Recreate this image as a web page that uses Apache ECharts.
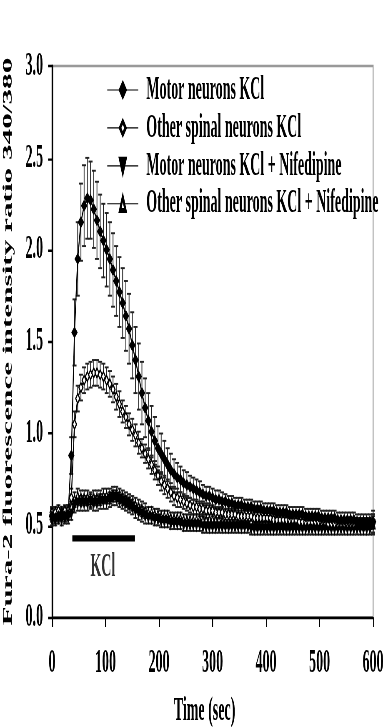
<!DOCTYPE html>
<html><head><meta charset="utf-8">
<script src="https://cdn.jsdelivr.net/npm/echarts@6/dist/echarts.min.js"></script>
<style>
html,body{margin:0;padding:0;background:#fff;overflow:hidden;}
#wrap{width:383px;height:727px;overflow:hidden;}
#chart{width:383px;height:303px;transform:scaleY(2.3993);transform-origin:0 0;}
</style></head>
<body><div id="wrap"><div id="chart"></div></div>
<script>
// time points (sec)
const times = [0,6,12,18,24,30,36,42,48,54,
 60,66,72,78,84,90,96,102,108,114,
 120,126,132,138,144,150,156,162,168,174,
 180,186,192,198,204,210,216,222,228,234,
 240,246,252,258,264,270,276,282,288,294,
 300,306,312,318,324,330,336,342,348,354,
 360,366,372,378,384,390,396,402,408,414,
 420,426,432,438,444,450,456,462,468,474,
 480,486,492,498,504,510,516,522,528,534,
 540,546,552,558,564,570,576,582,588,594,
 600];
const seriesNames = ['Motor neurons KCl','Other spinal neurons KCl','Motor neurons KCl + Nifedipine','Other spinal neurons KCl + Nifedipine'];
// Motor neurons KCl
const mnKCl = [0.55,0.54,0.55,0.56,0.55,0.56,0.88,1.55,1.95,2.15,
 2.24,2.28,2.27,2.22,2.16,2.10,2.05,2.00,1.95,1.89,
 1.83,1.77,1.71,1.64,1.57,1.48,1.40,1.31,1.22,1.14,
 1.07,1.01,0.96,0.92,0.89,0.86,0.83,0.80,0.78,0.76,
 0.75,0.73,0.72,0.71,0.70,0.69,0.68,0.67,0.66,0.66,
 0.65,0.64,0.64,0.63,0.63,0.62,0.62,0.61,0.61,0.61,
 0.60,0.60,0.60,0.59,0.59,0.59,0.58,0.58,0.58,0.58,
 0.57,0.57,0.57,0.57,0.56,0.56,0.56,0.56,0.56,0.55,
 0.55,0.55,0.55,0.55,0.54,0.54,0.54,0.54,0.54,0.53,
 0.53,0.53,0.53,0.53,0.53,0.52,0.52,0.52,0.52,0.52,
 0.52];
const mnKClErr = [0.03,0.03,0.03,0.03,0.03,0.03,0.10,0.18,0.20,0.21,
 0.22,0.22,0.21,0.21,0.21,0.20,0.20,0.20,0.20,0.20,
 0.19,0.19,0.19,0.19,0.19,0.18,0.18,0.18,0.17,0.16,
 0.15,0.14,0.13,0.12,0.11,0.10,0.09,0.09,0.08,0.08,
 0.07,0.07,0.07,0.06,0.06,0.06,0.06,0.05,0.05,0.05,
 0.05,0.05,0.05,0.05,0.04,0.04,0.04,0.04,0.04,0.04,
 0.04,0.04,0.04,0.04,0.04,0.04,0.04,0.04,0.04,0.04,
 0.04,0.04,0.04,0.04,0.04,0.04,0.04,0.04,0.04,0.04,
 0.04,0.04,0.04,0.04,0.04,0.04,0.04,0.04,0.04,0.04,
 0.04,0.04,0.04,0.04,0.04,0.04,0.04,0.04,0.04,0.04,
 0.06];
// Other spinal neurons KCl
const osKCl = [0.57,0.57,0.58,0.57,0.58,0.58,0.65,1.05,1.19,1.25,
 1.29,1.31,1.32,1.33,1.33,1.32,1.31,1.29,1.27,1.24,
 1.20,1.16,1.12,1.09,1.05,1.02,0.99,0.95,0.92,0.89,
 0.86,0.83,0.80,0.77,0.74,0.72,0.70,0.68,0.66,0.65,
 0.64,0.63,0.62,0.61,0.60,0.60,0.59,0.59,0.58,0.58,
 0.58,0.57,0.57,0.57,0.56,0.56,0.56,0.56,0.55,0.55,
 0.55,0.55,0.55,0.54,0.54,0.54,0.54,0.54,0.54,0.53,
 0.53,0.53,0.53,0.53,0.53,0.53,0.53,0.52,0.52,0.52,
 0.52,0.52,0.52,0.52,0.52,0.52,0.51,0.51,0.51,0.51,
 0.51,0.51,0.51,0.51,0.51,0.51,0.51,0.51,0.51,0.51,
 0.51];
const osKClErr = [0.03,0.03,0.03,0.03,0.03,0.03,0.05,0.07,0.07,0.07,
 0.07,0.07,0.07,0.07,0.07,0.07,0.07,0.07,0.07,0.07,
 0.07,0.07,0.06,0.06,0.06,0.06,0.06,0.06,0.05,0.05,
 0.05,0.05,0.05,0.05,0.05,0.05,0.05,0.05,0.05,0.05,
 0.04,0.04,0.04,0.04,0.04,0.04,0.04,0.04,0.04,0.04,
 0.03,0.03,0.03,0.03,0.03,0.03,0.03,0.03,0.03,0.03,
 0.03,0.03,0.03,0.03,0.03,0.03,0.03,0.03,0.03,0.03,
 0.03,0.03,0.03,0.03,0.03,0.03,0.03,0.03,0.03,0.03,
 0.03,0.03,0.03,0.03,0.03,0.03,0.03,0.03,0.03,0.03,
 0.03,0.03,0.03,0.03,0.03,0.03,0.03,0.03,0.03,0.03,
 0.05];
// Motor neurons KCl + Nifedipine
const mnNif = [0.53,0.53,0.54,0.53,0.54,0.54,0.56,0.61,0.62,0.62,
 0.62,0.62,0.63,0.62,0.62,0.63,0.63,0.63,0.64,0.65,
 0.65,0.64,0.63,0.62,0.61,0.60,0.58,0.57,0.56,0.55,
 0.54,0.54,0.53,0.53,0.52,0.52,0.52,0.51,0.51,0.51,
 0.51,0.50,0.50,0.50,0.50,0.50,0.50,0.49,0.49,0.49,
 0.49,0.49,0.49,0.49,0.49,0.49,0.49,0.49,0.49,0.49,
 0.49,0.49,0.48,0.48,0.48,0.48,0.48,0.48,0.48,0.48,
 0.48,0.48,0.48,0.48,0.48,0.48,0.48,0.48,0.48,0.48,
 0.48,0.48,0.48,0.48,0.48,0.48,0.48,0.48,0.48,0.48,
 0.48,0.48,0.48,0.48,0.48,0.48,0.48,0.48,0.48,0.48,
 0.50];
const mnNifErr = [0.03,0.03,0.03,0.03,0.03,0.03,0.03,0.04,0.04,0.04,
 0.04,0.04,0.04,0.04,0.04,0.04,0.04,0.04,0.04,0.04,
 0.04,0.04,0.04,0.04,0.04,0.04,0.04,0.04,0.04,0.04,
 0.03,0.03,0.03,0.03,0.03,0.03,0.03,0.03,0.03,0.03,
 0.03,0.03,0.03,0.03,0.03,0.03,0.03,0.03,0.03,0.03,
 0.03,0.03,0.03,0.03,0.03,0.03,0.03,0.03,0.03,0.03,
 0.03,0.03,0.03,0.03,0.03,0.03,0.03,0.03,0.03,0.03,
 0.03,0.03,0.03,0.03,0.03,0.03,0.03,0.03,0.03,0.03,
 0.03,0.03,0.03,0.03,0.03,0.03,0.03,0.03,0.03,0.03,
 0.03,0.03,0.03,0.03,0.03,0.03,0.03,0.03,0.03,0.03,
 0.05];
// Other spinal neurons KCl + Nifedipine
const osNif = [0.56,0.57,0.56,0.57,0.57,0.58,0.60,0.64,0.66,0.65,
 0.65,0.65,0.64,0.65,0.65,0.65,0.66,0.66,0.66,0.67,
 0.67,0.66,0.65,0.64,0.63,0.62,0.61,0.60,0.59,0.58,
 0.57,0.57,0.56,0.56,0.55,0.55,0.55,0.54,0.54,0.54,
 0.54,0.53,0.53,0.53,0.53,0.53,0.53,0.53,0.53,0.53,
 0.53,0.53,0.53,0.52,0.52,0.52,0.52,0.52,0.52,0.52,
 0.52,0.52,0.52,0.52,0.52,0.52,0.52,0.52,0.52,0.52,
 0.52,0.52,0.52,0.52,0.52,0.52,0.52,0.52,0.52,0.52,
 0.51,0.51,0.51,0.51,0.51,0.51,0.51,0.51,0.51,0.51,
 0.51,0.51,0.51,0.51,0.51,0.51,0.51,0.51,0.51,0.51,
 0.51];
const osNifErr = [0.03,0.03,0.03,0.03,0.03,0.03,0.03,0.04,0.04,0.04,
 0.04,0.04,0.04,0.04,0.04,0.04,0.04,0.04,0.04,0.04,
 0.04,0.04,0.04,0.04,0.04,0.04,0.04,0.04,0.04,0.04,
 0.03,0.03,0.03,0.03,0.03,0.03,0.03,0.03,0.03,0.03,
 0.03,0.03,0.03,0.03,0.03,0.03,0.03,0.03,0.03,0.03,
 0.03,0.03,0.03,0.03,0.03,0.03,0.03,0.03,0.03,0.03,
 0.03,0.03,0.03,0.03,0.03,0.03,0.03,0.03,0.03,0.03,
 0.03,0.03,0.03,0.03,0.03,0.03,0.03,0.03,0.03,0.03,
 0.03,0.03,0.03,0.03,0.03,0.03,0.03,0.03,0.03,0.03,
 0.03,0.03,0.03,0.03,0.03,0.03,0.03,0.03,0.03,0.03,
 0.05];
// KCl application bar and its label
const kclBar = [[38,0.43],[155,0.43]];
const kclLabel = [[95,0.27]];

const FONT = '"Liberation Serif","Times New Roman",serif';
const chart = echarts.init(document.getElementById('chart'), null, {renderer:'canvas', devicePixelRatio:2.4});

function pairs(vals){ return vals.map((v,i)=>[times[i], v]); }
function errSeries(id, vals, errs){
  return {
    type:'custom', name:id, silent:true, z:1, clip:false,
    data: vals.map((v,i)=>[times[i], v-errs[i], v+errs[i]]),
    encode:{x:0, y:[1,2]},
    renderItem(params, api){
      const x = api.value(0);
      const lo = api.coord([x, api.value(1)]);
      const hi = api.coord([x, api.value(2)]);
      const w = 2;
      const st = {stroke:'#222', lineWidth:0.8};
      return {type:'group', children:[
        {type:'line', shape:{x1:lo[0],y1:lo[1],x2:hi[0],y2:hi[1]}, style:st},
        {type:'line', shape:{x1:lo[0]-w,y1:lo[1],x2:lo[0]+w,y2:lo[1]}, style:st},
        {type:'line', shape:{x1:hi[0]-w,y1:hi[1],x2:hi[0]+w,y2:hi[1]}, style:st}
      ]};
    }
  };
}
function lineSeries(name, vals, symbol, filled, rot, size){
  return {
    type:'line', name:name, data:pairs(vals), z:3,
    symbol:symbol, symbolSize:size, symbolRotate:rot||0, showSymbol:true,
    lineStyle:{color:'#000', width:1},
    itemStyle:{color: filled ? '#000' : '#fff', borderColor:'#000', borderWidth:0.9},
    emphasis:{disabled:true}, animation:false
  };
}

const option = {
  animation:false,
  backgroundColor:'#fff',
  grid:{left:52, right:10, top:27.5, bottom:45.8, show:true, borderColor:'#999', borderWidth:1, outerBoundsMode:'none', containLabel:false},
  legend:{
    data:seriesNames, orient:'vertical', left:107, top:30.5, padding:0,
    itemWidth:31, itemHeight:7, itemGap:1.8,
    lineStyle:{width:0.5},
    textStyle:{fontFamily:FONT, fontWeight:'bold', fontSize:14, color:'#000', lineHeight:14, padding:[0,0,0,3]},
    selectedMode:false
  },
  xAxis:{
    type:'value', min:0, max:600, interval:100,
    name:'Time (sec)', nameLocation:'middle', nameGap:32,
    nameTextStyle:{fontFamily:FONT, fontWeight:'bold', fontSize:14, color:'#000', padding:[0,16,0,0]},
    axisLine:{lineStyle:{color:'#000', width:1}},
    axisTick:{show:true, length:4, lineStyle:{color:'#000'}},
    axisLabel:{fontFamily:FONT, fontWeight:'bold', fontSize:14, color:'#000', margin:12},
    splitLine:{show:false}
  },
  yAxis:{
    type:'value', min:0, max:3, interval:0.5,
    name:'Fura-2 fluorescence intensity ratio 340/380', nameLocation:'middle', nameGap:30,
    nameTextStyle:{fontFamily:FONT, fontWeight:'bold', fontSize:13, color:'#000'},
    axisLine:{show:true, lineStyle:{color:'#000', width:1.3}},
    axisTick:{show:true, length:4, lineStyle:{color:'#000'}},
    axisLabel:{fontFamily:FONT, fontWeight:'bold', fontSize:14, color:'#000', margin:9, formatter:v=>v.toFixed(1)},
    splitLine:{show:false}
  },
  series:[
    errSeries('err-osNif', osNif, osNifErr),
    errSeries('err-mnNif', mnNif, mnNifErr),
    errSeries('err-os', osKCl, osKClErr),
    errSeries('err-mn', mnKCl, mnKClErr),
    lineSeries(seriesNames[3], osNif, 'triangle', false, 0, [4,4]),
    lineSeries(seriesNames[2], mnNif, 'triangle', true, 180, [4,4]),
    lineSeries(seriesNames[1], osKCl, 'diamond', false, 0, [4,4]),
    lineSeries(seriesNames[0], mnKCl, 'diamond', true, 0, [5,4]),
    {type:'line', name:'kclBar', data:kclBar, symbol:'none', z:4,
     lineStyle:{color:'#000', width:2.6}, silent:true},
    {type:'scatter', name:'kclLabel', data:kclLabel, symbolSize:0, z:4, silent:true,
     label:{show:true, position:'inside', formatter:'KCl', fontFamily:FONT, fontWeight:'bold', fontSize:14, color:'#000'}}
  ]
};
chart.setOption(option);
</script>
</body></html>
